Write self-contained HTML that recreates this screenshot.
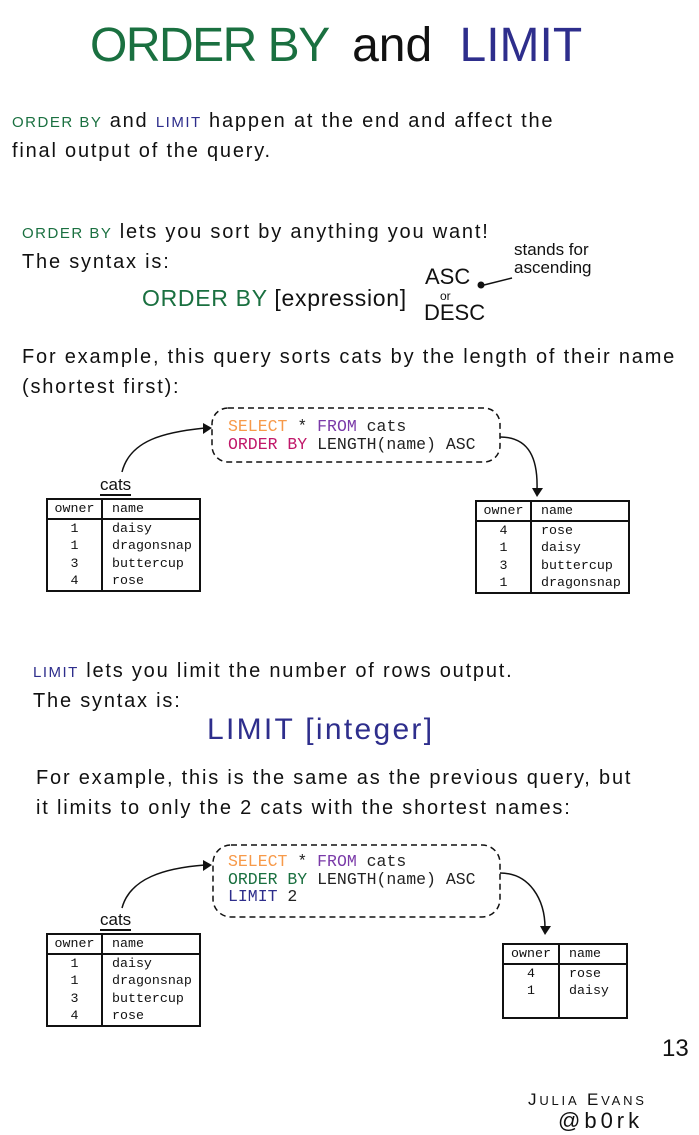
<!DOCTYPE html>
<html><head><meta charset="utf-8"><style>
html,body{margin:0;padding:0;background:#fff;}
body{width:699px;height:1135px;position:relative;overflow:hidden;font-family:"Liberation Sans",sans-serif;color:#111;}
.t{position:absolute;white-space:nowrap;line-height:1;}
.g{color:#1a7040;} .b{color:#2e2e8c;} .o{color:#f79a4a;} .p{color:#7a3aa8;} .m{color:#c0186a;}
.sc{font-size:15px;letter-spacing:1.5px;}
.q{position:absolute;font-family:"Liberation Mono",monospace;font-size:16.5px;line-height:17.5px;color:#222;white-space:pre;}
table{position:absolute;border-collapse:collapse;font-family:"Liberation Mono",monospace;font-size:13.3px;border:2px solid #111;}
td{padding:0 0 0 9px;height:17.5px;line-height:17px;}
td.c1{width:53px;text-align:center;padding:0;border-right:2px solid #111;}
tr.h td{border-bottom:2px solid #111;}
.body{font-size:20px;letter-spacing:1.8px;}
</style></head><body>
<div class="t" style="left:90px;top:22px;font-size:48px;"><span class="g" style="letter-spacing:-1.5px">ORDER BY</span> <span style="margin-left:10px">and</span> <span class="b" style="margin-left:14px">LIMIT</span></div>

<div class="t body" style="left:12px;top:111px;"><span class="g sc">ORDER BY</span> and <span class="b sc">LIMIT</span> happen at the end and affect the</div>
<div class="t body" style="left:12px;top:141px;">final output of the query.</div>

<div class="t body" style="left:22px;top:222px;"><span class="g sc">ORDER BY</span> lets you sort by anything you want!</div>
<div class="t body" style="left:22px;top:252px;">The syntax is:</div>
<div class="t" style="left:142px;top:287px;font-size:23px;letter-spacing:0.7px"><span class="g">ORDER BY</span> [expression]</div>
<div class="t" style="left:425px;top:266px;font-size:22px;">ASC</div>
<div class="t" style="left:440px;top:290px;font-size:12px;">or</div>
<div class="t" style="left:424px;top:302px;font-size:22px;">DESC</div>
<div class="t" style="left:514px;top:241px;font-size:17px;">stands for</div>
<div class="t" style="left:514px;top:259px;font-size:17px;">ascending</div>

<div class="t body" style="left:22px;top:347px;">For example, this query sorts cats by the length of their name</div>
<div class="t body" style="left:22px;top:377px;">(shortest first):</div>

<div class="q" style="left:228px;top:418px;"><span class="o">SELECT</span> * <span class="p">FROM</span> cats
<span class="m">ORDER BY</span> LENGTH(name) ASC</div>

<div class="t" style="left:100px;top:476px;font-size:17px;border-bottom:2px solid #111;padding-bottom:1px">cats</div>
<table style="left:46px;top:498px;width:155px;"><tr class="h"><td class="c1">owner</td><td>name</td></tr><tr><td class="c1">1</td><td>daisy</td></tr><tr><td class="c1">1</td><td>dragonsnap</td></tr><tr><td class="c1">3</td><td>buttercup</td></tr><tr><td class="c1">4</td><td>rose</td></tr></table>
<table style="left:475px;top:500px;width:155px;"><tr class="h"><td class="c1">owner</td><td>name</td></tr><tr><td class="c1">4</td><td>rose</td></tr><tr><td class="c1">1</td><td>daisy</td></tr><tr><td class="c1">3</td><td>buttercup</td></tr><tr><td class="c1">1</td><td>dragonsnap</td></tr></table>

<div class="t body" style="left:33px;top:661px;"><span class="b sc">LIMIT</span> lets you limit the number of rows output.</div>
<div class="t body" style="left:33px;top:691px;">The syntax is:</div>
<div class="t b" style="left:207px;top:715px;font-size:30px;letter-spacing:2.3px">LIMIT [integer]</div>
<div class="t body" style="left:36px;top:768px;">For example, this is the same as the previous query, but</div>
<div class="t body" style="left:36px;top:798px;">it limits to only the 2 cats with the shortest names:</div>

<div class="q" style="left:228px;top:853px;"><span class="o">SELECT</span> * <span class="p">FROM</span> cats
<span class="g">ORDER BY</span> LENGTH(name) ASC
<span class="b">LIMIT</span> 2</div>

<div class="t" style="left:100px;top:911px;font-size:17px;border-bottom:2px solid #111;padding-bottom:1px">cats</div>
<table style="left:46px;top:933px;width:155px;"><tr class="h"><td class="c1">owner</td><td>name</td></tr><tr><td class="c1">1</td><td>daisy</td></tr><tr><td class="c1">1</td><td>dragonsnap</td></tr><tr><td class="c1">3</td><td>buttercup</td></tr><tr><td class="c1">4</td><td>rose</td></tr></table>
<table style="left:502px;top:943px;width:126px;height:64px;"><tr class="h"><td class="c1" style="width:54px">owner</td><td>name</td></tr><tr><td class="c1">4</td><td>rose</td></tr><tr><td class="c1">1</td><td>daisy</td></tr><tr><td class="c1"></td><td></td></tr></table>

<div class="t" style="left:662px;top:1037px;font-size:24px;">13</div>
<div class="t" style="left:528px;top:1091px;font-size:17px;letter-spacing:2.8px">J<span style="font-size:13px">ULIA</span> E<span style="font-size:13px">VANS</span></div>
<div class="t" style="left:558px;top:1110px;font-size:22px;letter-spacing:4px">@b0rk</div>

<svg width="699" height="1135" style="position:absolute;left:0;top:0" fill="none" stroke="#111" stroke-width="1.5">
<rect x="212" y="408" width="288" height="54" rx="16" stroke-dasharray="6,4"/>
<rect x="213" y="845" width="287" height="72" rx="18" stroke-dasharray="6,4"/>
<path d="M122 472 C130 440 165 432 205 428"/>
<path d="M500 437 C530 437 538 460 537 490"/>
<path d="M122 908 C130 878 165 868 205 865"/>
<path d="M500 873 C530 873 545 900 545 928"/>
<path d="M512 278 L484 285"/>
<g fill="#111" stroke="none">
<polygon points="212,428 203,423 203,434"/>
<polygon points="537,497 532,488 543,488"/>
<polygon points="212,865 203,860 203,871"/>
<polygon points="545,935 540,926 551,926"/>
<circle cx="481" cy="285" r="3.5"/>
</g>
</svg>
</body></html>
